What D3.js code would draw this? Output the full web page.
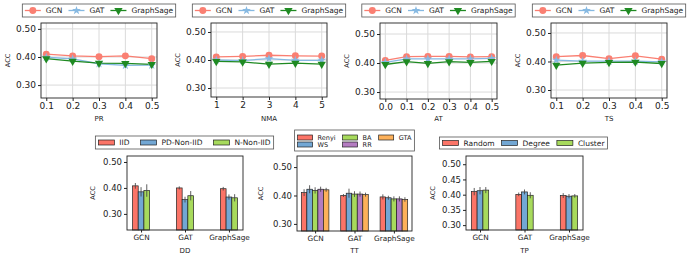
<!DOCTYPE html>
<html>
<head>
<meta charset="utf-8">
<script src="https://cdn.jsdelivr.net/npm/d3@7"></script>
<style>
  body { margin: 0; background: #fff; }
  text { font-family: "DejaVu Sans", sans-serif; fill: #222; }
</style>
</head>
<body>
<svg id="chart" width="692" height="260"></svg>
<script>
// ---- data ----
var models = ["GCN", "GAT", "GraphSage"];

var prX = [0.1, 0.2, 0.3, 0.4, 0.5];
var prGCN = [0.410, 0.404, 0.401, 0.404, 0.394];
var prGAT = [0.399, 0.393, 0.376, 0.370, 0.371];
var prSage = [0.394, 0.385, 0.378, 0.377, 0.374];

var nmaX = [1, 2, 3, 4, 5];
var nmaGCN = [0.411, 0.413, 0.417, 0.415, 0.414];
var nmaGAT = [0.400, 0.398, 0.405, 0.399, 0.399];
var nmaSage = [0.395, 0.393, 0.385, 0.389, 0.385];

var atX = [0.0, 0.1, 0.2, 0.3, 0.4, 0.5];
var atGCN = [0.409, 0.422, 0.423, 0.423, 0.421, 0.422];
var atGAT = [0.402, 0.414, 0.414, 0.414, 0.414, 0.416];
var atSage = [0.395, 0.405, 0.399, 0.405, 0.402, 0.406];

var tsX = [0.1, 0.2, 0.3, 0.4, 0.5];
var tsGCN = [0.417, 0.421, 0.410, 0.420, 0.408];
var tsGAT = [0.405, 0.401, 0.401, 0.401, 0.399];
var tsSage = [0.387, 0.394, 0.397, 0.398, 0.393];

var ddNames = ["IID", "PD-Non-IID", "N-Non-IID"];
var ddIID = [0.408, 0.400, 0.397];
var ddPD = [0.385, 0.355, 0.365];
var ddN = [0.390, 0.370, 0.362];
var ddIIDErr = [0.011, 0.006, 0.007];
var ddPDErr = [0.018, 0.011, 0.010];
var ddNErr = [0.024, 0.018, 0.014];

var ttNames = ["Renyi", "WS", "BA", "RR", "GTA"];
var ttRenyi = [0.410, 0.400, 0.395];
var ttWS = [0.422, 0.408, 0.392];
var ttBA = [0.418, 0.405, 0.388];
var ttRR = [0.422, 0.405, 0.388];
var ttGTA = [0.420, 0.403, 0.386];
var ttRenyiErr = [0.012, 0.005, 0.009];
var ttWSErr = [0.014, 0.016, 0.007];
var ttBAErr = [0.011, 0.010, 0.009];
var ttRRErr = [0.009, 0.009, 0.009];
var ttGTAErr = [0.007, 0.007, 0.008];

var tpNames = ["Random", "Degree", "Cluster"];
var tpRandom = [0.410, 0.401, 0.397];
var tpDegree = [0.413, 0.409, 0.395];
var tpCluster = [0.415, 0.398, 0.396];
var tpRandomErr = [0.012, 0.006, 0.008];
var tpDegreeErr = [0.012, 0.008, 0.007];
var tpClusterErr = [0.010, 0.010, 0.006];

var lineTicks = [0.30, 0.40, 0.50];
var tpTicks = [0.30, 0.35, 0.40, 0.45, 0.50];

// ---- styles ----
var cRed = "#fb7467", cBlue = "#72a7d4", cGreen = "#a7da5c", cPurple = "#b47cc1", cOrange = "#fdb15a";
var lineColors = ["#fa7f72", "#86b9e2", "#1f8a22"];
var svg = d3.select("#chart");

function frame(g, box) {
    g.append("rect")
        .attr("x", box.l).attr("y", box.t)
        .attr("width", box.r - box.l).attr("height", box.b - box.t)
        .attr("fill", "none").attr("stroke", "#222").attr("stroke-width", 0.9);
}

function yAxis(g, y, box, ticks, fontSize, grid) {
    var ax = g.append("g").attr("transform", "translate(" + box.l + ",0)")
        .call(d3.axisLeft(y).tickValues(ticks).tickFormat(d3.format(".2f")).tickSize(3).tickPadding(2));
    ax.select(".domain").remove();
    ax.selectAll("line").attr("stroke", "#222");
    ax.selectAll("text").attr("font-size", fontSize).attr("fill", "#222");
    if (grid) {
        g.insert("g", ":first-child").selectAll("line").data(ticks).enter().append("line")
            .attr("x1", box.l).attr("x2", box.r)
            .attr("y1", function(d) { return y(d); }).attr("y2", function(d) { return y(d); })
            .attr("stroke", "#dadada").attr("stroke-width", 1);
    }
}

function axisTitles(g, box, xLabel, xLabelY, accX) {
    g.append("text").attr("x", (box.l + box.r) / 2).attr("y", xLabelY)
        .attr("text-anchor", "middle").attr("font-size", 7).text(xLabel);
    g.append("text")
        .attr("transform", "translate(" + accX + "," + ((box.t + box.b) / 2) + ") rotate(-90)")
        .attr("text-anchor", "middle").attr("dominant-baseline", "middle")
        .attr("font-size", 6.5).text("ACC");
}

// legend: items laid out in columns, box centred on cx
function legend(g, items, opt) {
    var lg = g.append("g");
    var rows = opt.rows || 1;
    var cols = Math.ceil(items.length / rows);
    var colX = [], x = opt.pad;
    for (var c = 0; c < cols; c++) {
        var w = 0;
        for (var r = 0; r < rows; r++) {
            var it = items[c * rows + r];
            if (!it) continue;
            var t = lg.append("text").attr("font-size", opt.fs).text(it.name);
            it.textNode = t;
            w = Math.max(w, t.node().getComputedTextLength());
        }
        colX.push(x);
        x += opt.hw + opt.hg + w + opt.colGap;
    }
    var totalW = x - opt.colGap + opt.pad;
    var x0 = opt.cx - totalW / 2;
    lg.insert("rect", ":first-child")
        .attr("x", x0).attr("y", opt.top)
        .attr("width", totalW).attr("height", opt.h)
        .attr("fill", "#fff").attr("stroke", "#555").attr("stroke-width", 0.8);
    items.forEach(function(it, i) {
        var c = Math.floor(i / rows), r = i % rows;
        var hx = x0 + colX[c];
        var cy = opt.top + opt.rowY[r];
        if (it.kind === "rect") {
            lg.append("rect").attr("x", hx).attr("y", cy - 2.5)
                .attr("width", opt.hw).attr("height", 5)
                .attr("fill", it.color).attr("stroke", "#222").attr("stroke-width", 0.7);
        } else {
            lg.append("line").attr("x1", hx).attr("x2", hx + opt.hw)
                .attr("y1", cy).attr("y2", cy)
                .attr("stroke", it.color).attr("stroke-width", 1.3);
            lg.append("path").attr("d", it.symbol)
                .attr("transform", "translate(" + (hx + opt.hw / 2) + "," + cy + ")" + (it.flip ? " rotate(180)" : ""))
                .attr("fill", it.color);
        }
        it.textNode.attr("x", hx + opt.hw + opt.hg).attr("y", cy)
            .attr("dominant-baseline", "central");
    });
}

var symCircle = d3.symbol().type(d3.symbolCircle).size(38)();
var symStar = d3.symbol().type(d3.symbolStar).size(24)();
var symTri = d3.symbol().type(d3.symbolTriangle).size(30)();

function linePanel(p) {
    var g = svg.append("g");
    var box = p.box;
    var span = p.xs[p.xs.length - 1] - p.xs[0];
    var x = d3.scaleLinear().domain([p.xs[0] - span * 0.05, p.xs[p.xs.length - 1] + span * 0.05]).range([box.l, box.r]);
    var y = d3.scaleLinear().domain(p.ylim).range([box.b, box.t]);

    // vertical grid
    g.append("g").selectAll("line").data(p.xs).enter().append("line")
        .attr("x1", function(d) { return x(d); }).attr("x2", function(d) { return x(d); })
        .attr("y1", box.t).attr("y2", box.b)
        .attr("stroke", "#dadada").attr("stroke-width", 1);
    yAxis(g, y, box, lineTicks, 9, true);

    var xa = g.append("g").attr("transform", "translate(0," + box.b + ")")
        .call(d3.axisBottom(x).tickValues(p.xs).tickFormat(p.fmt).tickSize(3).tickPadding(2));
    xa.select(".domain").remove();
    xa.selectAll("line").attr("stroke", "#222");
    xa.selectAll("text").attr("font-size", 9).attr("fill", "#222");

    var series = [p.gcn, p.gat, p.sage];
    var syms = [symCircle, symStar, symTri];
    var line = d3.line().x(function(d, i) { return x(p.xs[i]); }).y(function(d) { return y(d); });
    series.forEach(function(s, k) {
        g.append("path").datum(s).attr("d", line)
            .attr("fill", "none").attr("stroke", lineColors[k]).attr("stroke-width", 1.3);
    });
    series.forEach(function(s, k) {
        g.append("g").selectAll("path").data(s).enter().append("path")
            .attr("d", syms[k])
            .attr("transform", function(d, i) {
                return "translate(" + x(p.xs[i]) + "," + y(d) + ")" + (k === 2 ? " rotate(180)" : "");
            })
            .attr("fill", lineColors[k]);
    });
    frame(g, box);
    axisTitles(g, box, p.label, 121, box.l - 33);

    legend(g, [
        { name: models[0], color: lineColors[0], symbol: symCircle },
        { name: models[1], color: lineColors[1], symbol: symStar },
        { name: models[2], color: lineColors[2], symbol: symTri, flip: true }
    ], { cx: (box.l + box.r) / 2, top: 4, h: 13, rowY: [6.5], fs: 7.5, hw: 16, hg: 5, colGap: 6, pad: 2.5 });
}

function barPanel(p) {
    var g = svg.append("g");
    var box = p.box;
    var x = d3.scalePoint().domain(models).range([box.l, box.r]).padding(p.padding);
    var y = d3.scaleLinear().domain(p.ylim).range([box.b, box.t]);
    var bw = x.step() * p.barFrac;
    var n = p.series.length;

    yAxis(g, y, box, p.ticks, 8.5, false);
    var xa = g.append("g").attr("transform", "translate(0," + box.b + ")")
        .call(d3.axisBottom(x).tickSize(2.5).tickPadding(2));
    xa.select(".domain").remove();
    xa.selectAll("line").attr("stroke", "#222");
    xa.selectAll("text").attr("font-size", 7.3).attr("fill", "#222");

    p.series.forEach(function(s, k) {
        var off = (k - (n - 1) / 2) * bw;
        var gs = g.append("g");
        gs.selectAll("rect").data(s).enter().append("rect")
            .attr("x", function(d, i) { return x(models[i]) + off - bw / 2; })
            .attr("y", function(d) { return y(d); })
            .attr("width", bw)
            .attr("height", function(d) { return box.b - y(d); })
            .attr("fill", p.colors[k]).attr("stroke", "#222").attr("stroke-width", 0.7);
        gs.selectAll("line").data(s).enter().append("line")
            .attr("x1", function(d, i) { return x(models[i]) + off; })
            .attr("x2", function(d, i) { return x(models[i]) + off; })
            .attr("y1", function(d, i) { return y(d - p.errs[k][i]); })
            .attr("y2", function(d, i) { return y(d + p.errs[k][i]); })
            .attr("stroke", "#444").attr("stroke-opacity", 0.85).attr("stroke-width", 1);
    });
    frame(g, box);
    axisTitles(g, box, p.label, 253, p.accX);

    legend(g, p.names.map(function(nm, k) { return { name: nm, color: p.colors[k], kind: "rect" }; }),
        p.legend);
}

linePanel({ xs: prX, gcn: prGCN, gat: prGAT, sage: prSage, label: "PR", fmt: d3.format(".1f"),
    ylim: [0.254, 0.521], box: { l: 41, t: 23, r: 157, b: 98 } });
linePanel({ xs: nmaX, gcn: nmaGCN, gat: nmaGAT, sage: nmaSage, label: "NMA", fmt: d3.format("d"),
    ylim: [0.268, 0.532], box: { l: 211, t: 23, r: 327, b: 97 } });
linePanel({ xs: atX, gcn: atGCN, gat: atGAT, sage: atSage, label: "AT", fmt: d3.format(".1f"),
    ylim: [0.276, 0.538], box: { l: 380, t: 23, r: 497, b: 99 } });
linePanel({ xs: tsX, gcn: tsGCN, gat: tsGAT, sage: tsSage, label: "TS", fmt: d3.format(".1f"),
    ylim: [0.272, 0.535], box: { l: 551, t: 23, r: 667, b: 98 } });

barPanel({ label: "DD", names: ddNames, series: [ddIID, ddPD, ddN], errs: [ddIIDErr, ddPDErr, ddNErr],
    colors: [cRed, cBlue, cGreen], ylim: [0.238, 0.523], ticks: lineTicks,
    box: { l: 127, t: 156, r: 243, b: 230 }, padding: 0.32, barFrac: 0.13, accX: 93,
    legend: { cx: 184.5, top: 136, h: 13, rowY: [6.5], fs: 7.5, hw: 16, hg: 5, colGap: 11, pad: 3 } });
barPanel({ label: "TT", names: ttNames, series: [ttRenyi, ttWS, ttBA, ttRR, ttGTA],
    errs: [ttRenyiErr, ttWSErr, ttBAErr, ttRRErr, ttGTAErr],
    colors: [cRed, cBlue, cGreen, cPurple, cOrange], ylim: [0.275, 0.539], ticks: lineTicks,
    box: { l: 297, t: 156, r: 412, b: 231 }, padding: 0.46, barFrac: 0.14, accX: 261,
    legend: { cx: 354.5, top: 130, h: 21, rowY: [7.5, 14.5], rows: 2, fs: 6.5, hw: 15, hg: 5, colGap: 7, pad: 3 } });
barPanel({ label: "TP", names: tpNames, series: [tpRandom, tpDegree, tpCluster],
    errs: [tpRandomErr, tpDegreeErr, tpClusterErr],
    colors: [cRed, cBlue, cGreen], ylim: [0.284, 0.527], ticks: tpTicks,
    box: { l: 466, t: 156, r: 583, b: 230 }, padding: 0.315, barFrac: 0.13, accX: 433,
    legend: { cx: 523.5, top: 137, h: 12, rowY: [6], fs: 7.5, hw: 16, hg: 5, colGap: 7, pad: 3 } });
</script>
</body>
</html>
